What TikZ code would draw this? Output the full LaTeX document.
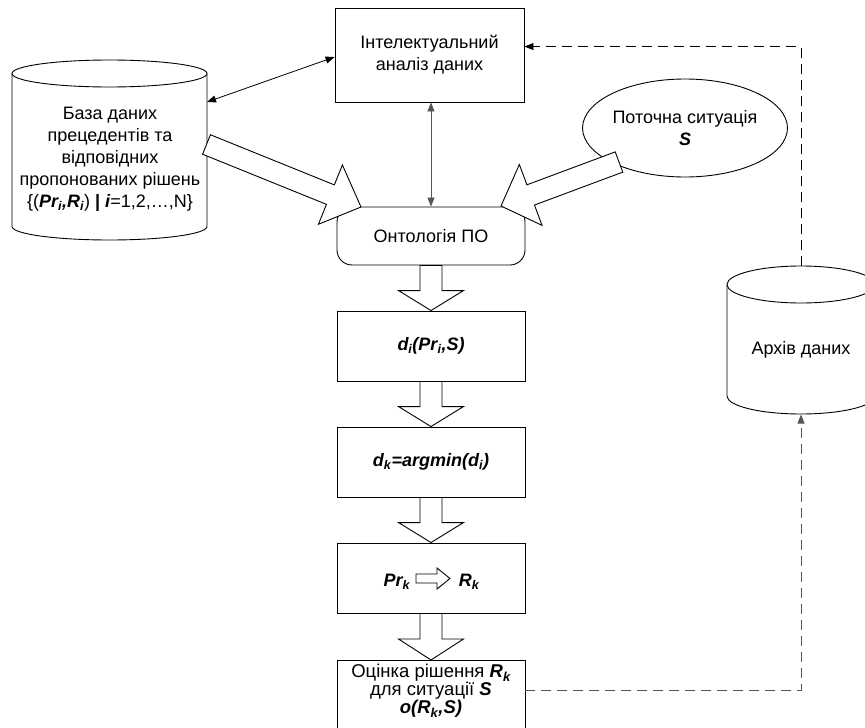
\documentclass[tikz,border=0pt]{standalone}
\usepackage{fontspec}
\setmainfont{Liberation Sans}
\usetikzlibrary{arrows.meta,calc,shapes.geometric}
\newcommand\bi[1]{\textbf{\textit{#1}}}
\newcommand\sbs[1]{\textsubscript{#1}}
\newcommand\tightfont{\fontsize{18.5}{18}\selectfont\lineskiplimit=-20pt\relax\lineskip=0pt\relax}
% block arrow: #1 tail centre, #2 tip, #3 shaft half width, #4 head half width, #5 head length
\newcommand\barrow[5]{%
  \coordinate (ba-h) at ($(#2)!#5!(#1)$);
  \draw[blockarr] ($(#1)!#3!90:(#2)$) -- ($(ba-h)!#3!90:(#2)$) -- ($(ba-h)!#4!90:(#2)$) -- (#2)
    -- ($(ba-h)!#4!-90:(#2)$) -- ($(ba-h)!#3!-90:(#2)$) -- ($(#1)!#3!-90:(#2)$) -- cycle;}
\definecolor{lgray}{HTML}{555555}
\begin{document}
\begin{tikzpicture}[x=1pt, y=-1pt, line width=0.9pt,
  font=\fontsize{18}{22}\selectfont,
  box/.style={draw, minimum width=188pt, minimum height=70pt, inner sep=0pt, align=center},
  blockarr/.style={draw, fill=white, line join=miter},
  dbl/.style={{Triangle[length=9pt,width=7pt]}-{Triangle[length=9pt,width=7pt]}, line width=0.8pt},
  dasharr/.style={dash pattern=on 10pt off 6pt, -{Triangle[length=9pt,width=7pt]}}]
\useasboundingbox (0,0) rectangle (865,728);
\fill[white] (0,0) rectangle (865,728);
\clip (0,0) rectangle (865,728);

% main column
\node[box, minimum width=189pt, minimum height=94pt] (ia) at (429.5,55) {Інтелектуальний\\аналіз даних};
\node[box, rounded corners=15pt, minimum height=58pt] (onto) at (431,236) {Онтологія ПО};
\node[box] (b1) at (431,346) {\bi{d\sbs{i}(Pr\sbs{i},S)}};
\node[box] (b2) at (431,462) {\bi{d\sbs{k}=argmin(d\sbs{i})}};
\node[box] (b3) at (431,578) {};
\node[anchor=base east] (prk) at (414,586) {\bi{Pr\sbs{k}}};
\node[anchor=base west] (rk) at (455,586) {\bi{R\sbs{k}}};
\coordinate (sa1) at (416,578.5);
\coordinate (sa2) at (450,578.5);
\node[box, minimum height=100pt, anchor=north] (b4) at (431,660) {};
\node[align=center, font=\tightfont] (b4t) at (431,691)
  {Оцінка рішення \bi{R\sbs{k}}\\для ситуації \bi{S}\\\bi{o(R\sbs{k},S)}};

% database cylinder
\draw[fill=white] (12,73.5) -- (12,226.5) arc[start angle=180, end angle=0, x radius=97.5, y radius=13.5] -- (207,73.5);
\draw (109.5,73.5) ellipse [x radius=97.5, y radius=13.5];
\node[align=center] (db) at (110,159) {База даних\\прецедентів та\\відповідних\\пропонованих рішень\\\{(\bi{Pr\sbs{i},R\sbs{i}}) \textbf{|} \bi{i}=1,2,\dots,N\}};
\coordinate (dbR) at (207,102);

% current situation
\node[draw, ellipse, minimum width=176pt, minimum height=98pt, inner sep=0pt, align=center] (sit) at (685,128) {Поточна ситуація\\\bi{S}};

% archive cylinder
\draw (727,284.5) -- (727,396) arc[start angle=180, end angle=0, x radius=74, y radius=18] -- (875,284.5);
\draw (801,284.5) ellipse [x radius=74, y radius=18.5];
\node (arch) at (801,350) {Архів даних};
\coordinate (archTop) at (801,266);
\coordinate (archBot) at (801,414.5);

% block arrows
\coordinate (tailL) at (206.5,144.5);
\coordinate (tipL) at (361,207);
\barrow{tailL}{tipL}{10.5pt}{32pt}{33pt}
\coordinate (tailR) at (619,162);
\coordinate (tipR) at (501,206);
\barrow{tailR}{tipR}{10.8pt}{32.5pt}{31.7pt}
\barrow{onto.south}{b1.north}{11pt}{32.5pt}{20pt}
\barrow{b1.south}{b2.north}{11pt}{32.5pt}{20pt}
\barrow{b2.south}{b3.north}{11pt}{32.5pt}{20pt}
\barrow{b3.south}{b4.north}{11pt}{32.5pt}{21pt}
\barrow{sa1}{sa2}{4.5pt}{10.5pt}{13pt}

% thin connectors
\draw[dbl] (dbR) -- ($(ia.west)+(0,2)$);
\draw[dbl, lgray] (onto.north |- ia.south) -- (onto.north);
\coordinate (iaIn) at ($(ia.north east)+(0,39)$);
\draw[dasharr] (archTop) |- (iaIn);
\coordinate (b4out) at ($(b4.north east)+(0,30)$);
\draw[dasharr, lgray, line width=0.8pt] (b4out) -| (archBot);
\end{tikzpicture}
\end{document}
